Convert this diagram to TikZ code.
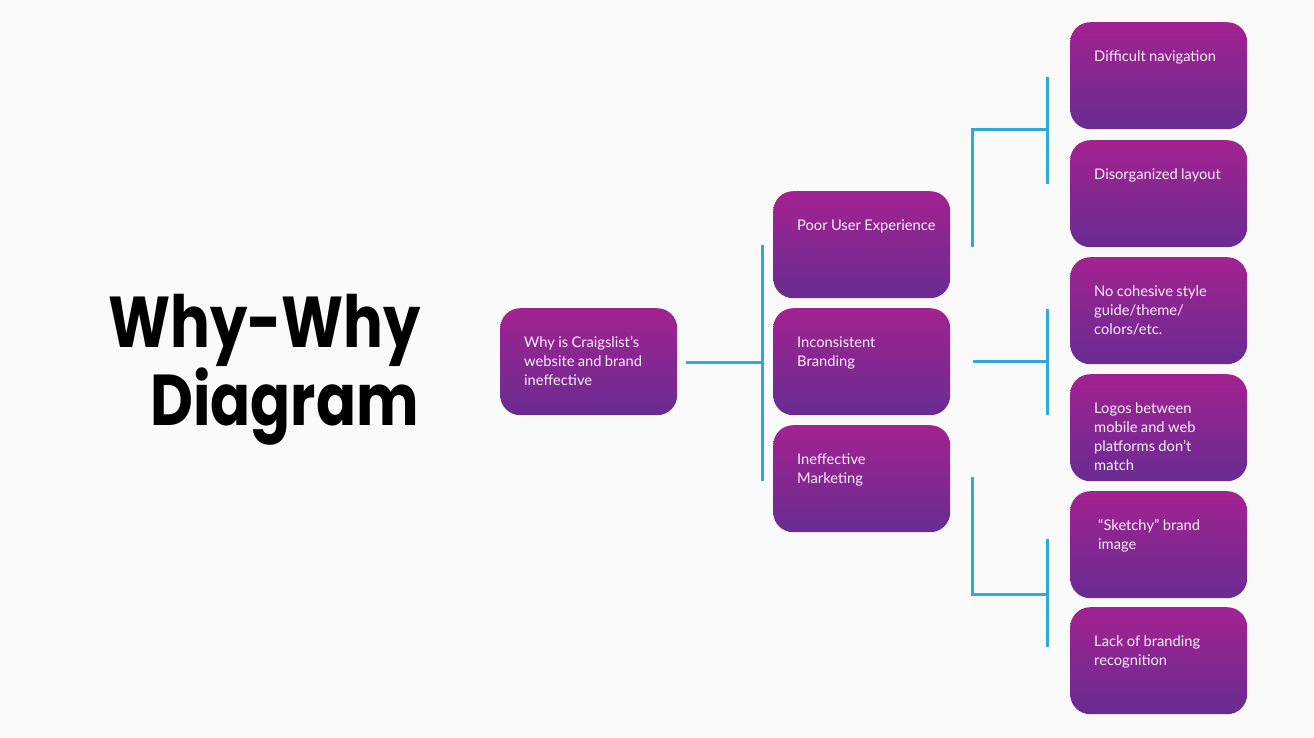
\documentclass[tikz,border=0pt]{standalone}
\usepackage{fontspec}
\setmainfont{Lato}
\newfontfamily\titlefont{Poppins}
\usetikzlibrary{calc}
\definecolor{bgc}{RGB}{250,250,250}
\definecolor{topc}{RGB}{163,34,145}
\definecolor{botc}{RGB}{104,44,146}
\definecolor{linec}{RGB}{45,170,216}
\definecolor{txtc}{RGB}{250,236,248}
\newcommand\boxtext[2][0pt]{\parbox[c][107pt][t]{150pt}{\vspace*{26pt}\fontsize{14.7}{19}\selectfont\color{txtc}\raggedright\hspace*{#1}\strut #2}}
\tikzset{
  why/.style={draw=none, rounded corners=20pt, top color=topc, bottom color=botc,
    inner xsep=24pt, inner ysep=0pt, minimum width=177pt, minimum height=107pt, anchor=north west, text width=129pt},
  conn/.style={draw=linec, line width=3pt},
  ttl/.style={anchor=base east, inner sep=0pt, font=\titlefont\bfseries\fontsize{72}{78}\selectfont}
}
\begin{document}
\begin{tikzpicture}[x=1pt,y=-1pt]
\fill[bgc] (0,0) rectangle (1314,738);
\useasboundingbox (0,0) rectangle (1314,738);
% title
\node[ttl] (t1) at (421,347) {\scalebox{0.82}[1]{Why-Why}};
\node[ttl] (t2) at (419,425) {\scalebox{0.82}[1]{Diagram}};
% boxes
\node[why] (root) at (500,308) {\boxtext{Why is Craigslist's\\ website and brand\\ ineffective}};
\node[why] (m1) at (773,191) {\boxtext{Poor User Experience}};
\node[why] (m2) at (773,308) {\boxtext{Inconsistent\\ Branding}};
\node[why] (m3) at (773,425) {\boxtext{Ineffective\\ Marketing}};
\node[why] (r1) at (1070,22) {\boxtext{Difficult navigation}};
\node[why] (r2) at (1070,140) {\boxtext{Disorganized layout}};
\node[why] (r3) at (1070,257) {\boxtext{No cohesive style\\ guide/theme/\\ colors/etc.}};
\node[why] (r4) at (1070,374) {\boxtext{Logos between\\ mobile and web\\ platforms don’t\\ match}};
\node[why] (r5) at (1070,491) {\boxtext[4pt]{“Sketchy” brand\\ \hspace*{4pt}image}};
\node[why] (r6) at (1070,607) {\boxtext{Lack of branding\\ recognition}};
% connector coordinates
\coordinate (a0) at (686,362);
\coordinate (a1) at (762,362);
\coordinate (a2) at (762,245);
\coordinate (a3) at (762,481);
\coordinate (b0) at (972,247);
\coordinate (b1) at (972,130);
\coordinate (b2) at (1047,130);
\coordinate (b3) at (1047,77);
\coordinate (b4) at (1047,184);
\coordinate (c0) at (973,361);
\coordinate (c1) at (1047,361);
\coordinate (c2) at (1047,309);
\coordinate (c3) at (1047,415);
\coordinate (d0) at (972,477);
\coordinate (d1) at (972,594);
\coordinate (d2) at (1047,594);
\coordinate (d3) at (1047,539);
\coordinate (d4) at (1047,647);
% connectors
\draw[conn] (a0) -- (a1);
\draw[conn] (a2) -- (a3);
\draw[conn] (b0) -- (b1) -- (b2);
\draw[conn] (b3) -- (b4);
\draw[conn] (c0) -- (c1);
\draw[conn] (c2) -- (c3);
\draw[conn] (d0) -- (d1) -- (d2);
\draw[conn] (d3) -- (d4);
\end{tikzpicture}
\end{document}
